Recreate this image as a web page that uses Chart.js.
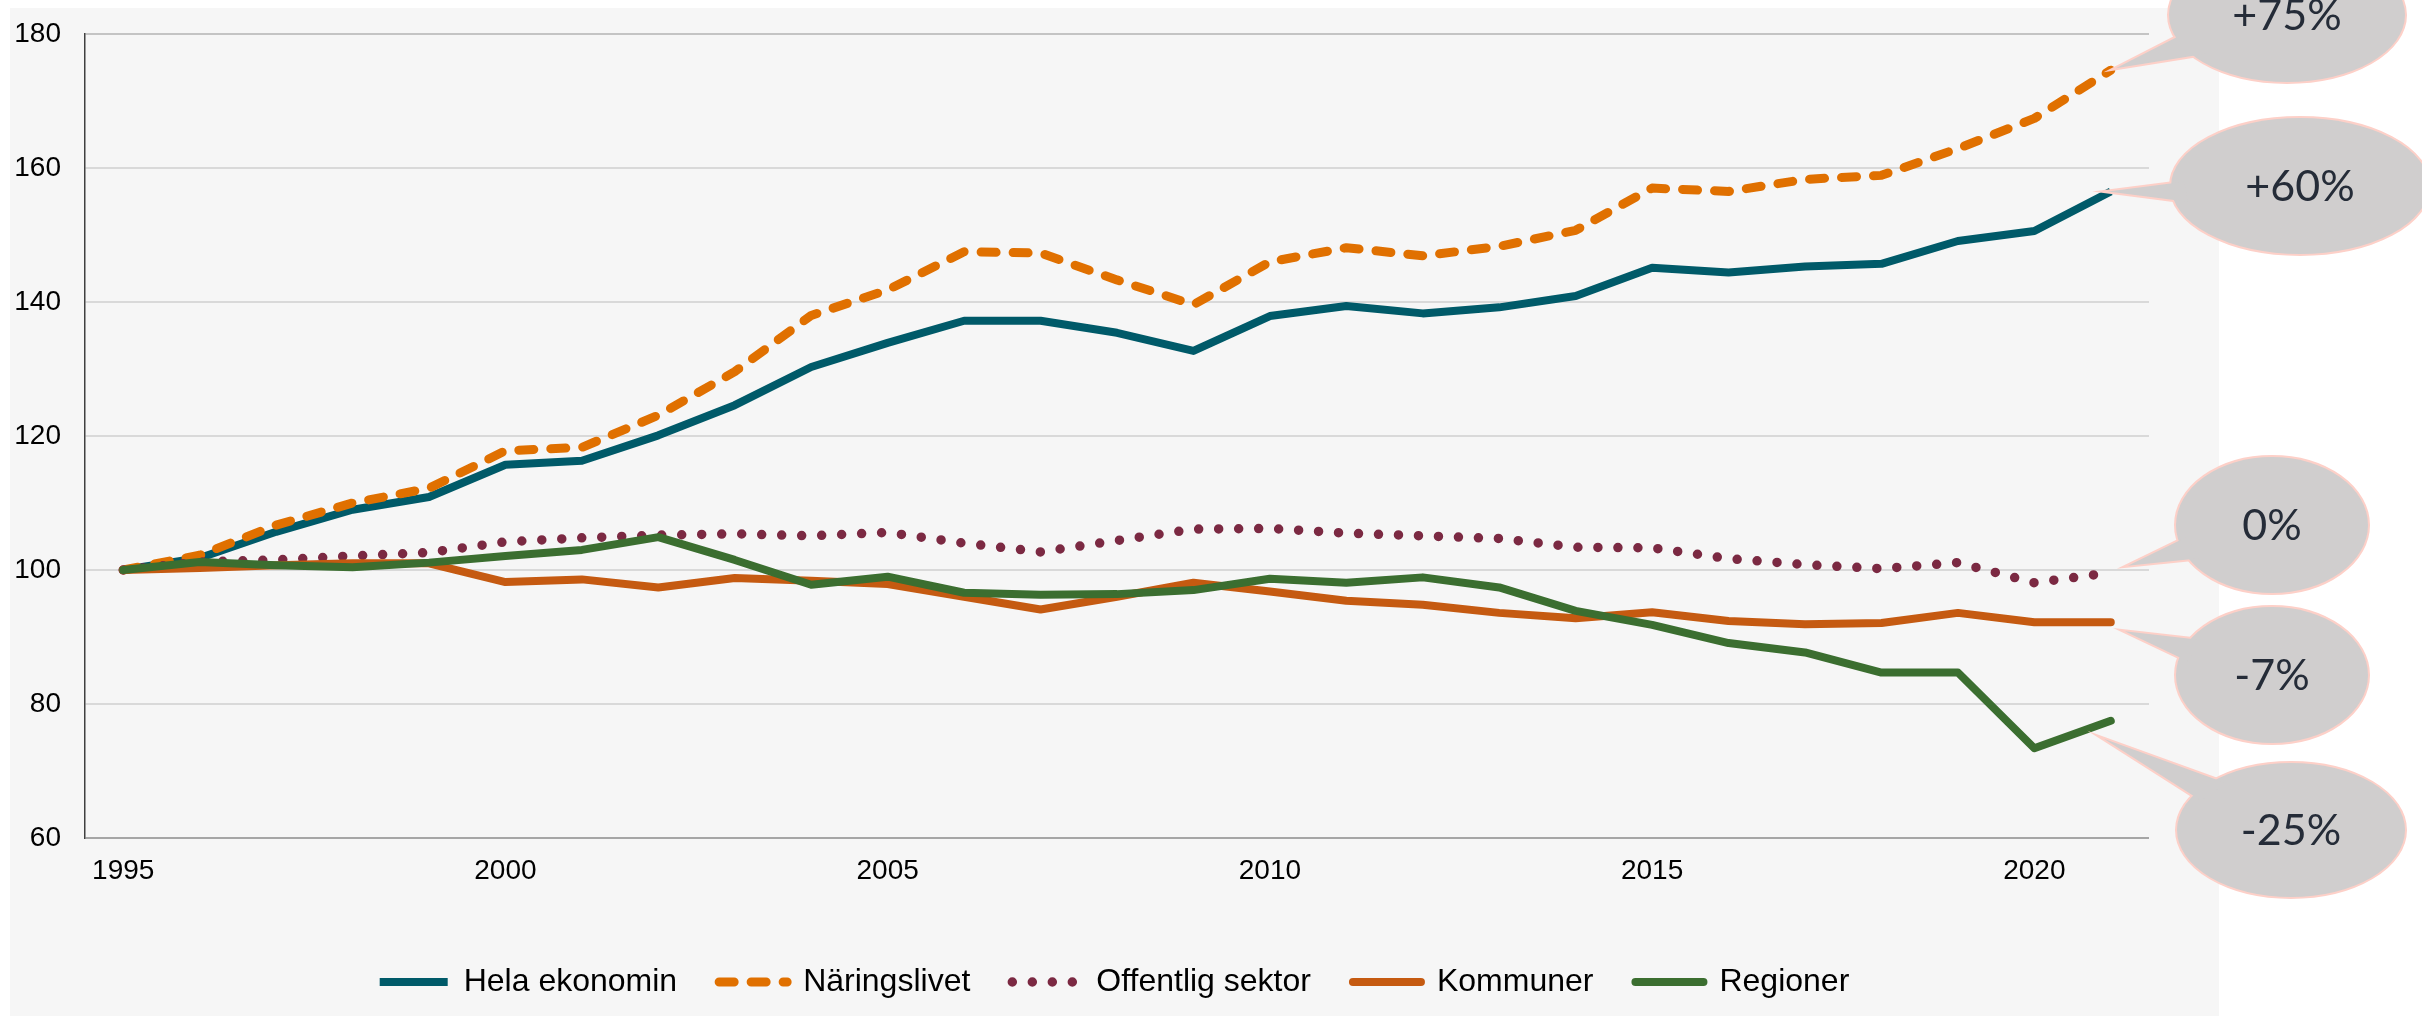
<!DOCTYPE html>
<html>
<head>
<meta charset="utf-8">
<script src="https://cdn.jsdelivr.net/npm/chart.js@4/dist/chart.umd.min.js"></script>
<style>
html,body{margin:0;padding:0;background:#ffffff;}
canvas{display:block;}
</style>
</head>
<body>
<canvas id="c" width="2422" height="1016"></canvas>
<script>
// ---- data ----
const years = ['1995','1996','1997','1998','1999','2000','2001','2002','2003','2004','2005','2006','2007','2008','2009','2010','2011','2012','2013','2014','2015','2016','2017','2018','2019','2020','2021'];
const xTickYears = ['1995','2000','2005','2010','2015','2020'];
const seriesNames = ['Hela ekonomin','Näringslivet','Offentlig sektor','Kommuner','Regioner'];
const helaEkonomin   = [100,101.8,105.7,109,110.9,115.7,116.3,120.1,124.6,130.3,133.9,137.2,137.2,135.4,132.7,137.9,139.4,138.3,139.2,140.9,145.1,144.4,145.3,145.7,149.1,150.6,156.5];
const naringslivet   = [100,102.2,106.7,110,112.2,117.8,118.3,123.1,129.6,138,141.8,147.5,147.3,143.3,139.6,146,148.1,146.9,148.3,150.7,157,156.5,158.3,158.9,162.9,167.4,174.6];
const offentligSektor= [100,101.2,101.5,102.1,102.6,104.2,104.8,105.2,105.4,105.1,105.6,104,102.7,104.4,106.1,106.2,105.5,105.1,104.7,103.4,103.3,101.7,100.8,100.2,101.1,98.1,99.6];
const kommuner       = [100,100.3,100.7,101,101,98.2,98.6,97.4,98.8,98.4,97.9,96,94.1,96,98.1,96.8,95.4,94.8,93.6,92.8,93.7,92.4,91.9,92.1,93.6,92.2,92.2];
const regioner       = [100,101.2,100.7,100.4,101.1,102.1,103,104.9,101.5,97.8,99,96.6,96.3,96.4,97,98.7,98.1,98.9,97.4,93.9,91.8,89.1,87.7,84.7,84.7,73.4,77.5];
const calloutLabels  = ['+60%','+75%','0%','-7%','-25%'];

// ---- styles ----
const seriesColors = ['#005a69','#e07000','#7b2942','#c55a11','#3b6e30'];
const seriesData = [helaEkonomin, naringslivet, offentligSektor, kommuner, regioner];
const seriesDash = [[], [15,17], [0,20], [], []];
const seriesWidth = [8, 9, 9.5, 8, 8];
const calloutGeom = [
  {cx:2300, cy:186, rx:129, ry:68, a1:184, a2:165, dx:-3, dy:0},
  {cx:2287, cy:15,  rx:118, ry:67, a1:163, a2:140, dx:5,  dy:-2},
  {cx:2272, cy:525, rx:96,  ry:68, a1:169, a2:147, dx:17, dy:-7},
  {cx:2272, cy:675, rx:96,  ry:68, a1:215, a2:193, dx:14, dy:9},
  {cx:2291, cy:830, rx:114, ry:67, a1:231, a2:209, dx:-7, dy:18}
];
const tickFont = {family:'"Liberation Sans", Arial, sans-serif', size:28};

const panelPlugin = {
  id:'panel',
  beforeDraw(chart){
    const c = chart.ctx;
    c.save();
    c.fillStyle = '#f6f6f6';
    c.fillRect(10, 8, 2209, 1008);
    c.restore();
  }
};

const calloutPlugin = {
  id:'callouts',
  afterDraw(chart){
    const c = chart.ctx;
    c.save();
    calloutGeom.forEach((g, i) => {
      const meta = chart.getDatasetMeta(i);
      const pt = meta.data[meta.data.length - 1];
      const tx = pt.x + g.dx, ty = pt.y + g.dy;
      const r1 = g.a1 * Math.PI / 180, r2 = g.a2 * Math.PI / 180;
      const b1x = g.cx + 0.9 * g.rx * Math.cos(r1), b1y = g.cy + 0.9 * g.ry * Math.sin(r1);
      const b2x = g.cx + 0.9 * g.rx * Math.cos(r2), b2y = g.cy + 0.9 * g.ry * Math.sin(r2);
      const ell = () => { c.beginPath(); c.ellipse(g.cx, g.cy, g.rx, g.ry, 0, 0, Math.PI * 2); c.closePath(); };
      const tri = () => { c.beginPath(); c.moveTo(b1x, b1y); c.lineTo(tx, ty); c.lineTo(b2x, b2y); c.closePath(); };
      c.lineJoin = 'miter';
      c.setLineDash([]);
      c.strokeStyle = '#fdd0c8';
      c.lineWidth = 4;
      ell(); c.stroke();
      tri(); c.stroke();
      c.fillStyle = '#d0cece';
      ell(); c.fill();
      tri(); c.fill();
      c.fillStyle = '#252c38';
      c.font = '400 43px Lato, "Open Sans", sans-serif';
      c.textAlign = 'center';
      c.textBaseline = 'middle';
      c.fillText(calloutLabels[i], g.cx, g.cy + 1);
    });
    c.restore();
  }
};

const datasets = seriesNames.map((name, i) => ({
  label: name,
  data: seriesData[i],
  borderColor: seriesColors[i],
  backgroundColor: seriesColors[i],
  borderWidth: seriesWidth[i],
  borderDash: seriesDash[i],
  borderCapStyle: i === 0 ? 'butt' : 'round',
  borderJoinStyle: 'round',
  pointRadius: 0,
  tension: 0,
  order: seriesNames.length - 1 - i
}));

new Chart(document.getElementById('c'), {
  type: 'line',
  data: { labels: years, datasets: datasets },
  options: {
    responsive: false,
    devicePixelRatio: 1,
    animation: false,
    layout: { padding: { left: 10, right: 203, top: 34, bottom: 8 } },
    scales: {
      x: {
        type: 'category',
        offset: true,
        grid: { display: false, drawTicks: false },
        border: { display: false },
        ticks: {
          autoSkip: false, maxRotation: 0, padding: 16, color: '#000', font: tickFont,
          callback: function(v) { const l = this.getLabelForValue(v); return xTickYears.includes(l) ? l : ''; }
        },
        afterFit: s => { s.height = 86; }
      },
      y: {
        min: 60, max: 180,
        ticks: { stepSize: 20, padding: 0, color: '#000', font: tickFont },
        grid: {
          drawTicks: true, tickLength: 24, tickColor: 'rgba(0,0,0,0)', lineWidth: 2,
          color: c => c.tick.value === 60 ? '#a6a6a6' : (c.tick.value === 180 ? '#c4c4c4' : '#d9d9d9')
        },
        border: { display: true, color: '#404040', width: 1.5 },
        afterFit: s => { s.width = 75; }
      },
      yRight: {
        type: 'linear', position: 'right', display: true,
        grid: { display: false, drawTicks: false },
        border: { display: false },
        ticks: { display: false },
        afterFit: s => { s.width = 70; }
      }
    },
    plugins: {
      legend: {
        position: 'bottom',
        labels: {
          usePointStyle: true, pointStyle: 'line', pointStyleWidth: 68,
          padding: 42, color: '#000',
          font: { family: '"Liberation Sans", Arial, sans-serif', size: 32 },
          generateLabels: chart => {
            const items = Chart.defaults.plugins.legend.labels.generateLabels(chart);
            items.forEach(it => {
              const ds = chart.data.datasets[it.datasetIndex];
              it.lineDash = ds.borderDash;
              it.lineCap = ds.borderCapStyle;
              it.lineWidth = ds.borderWidth;
              it.strokeStyle = ds.borderColor;
            });
            return items;
          },
          sort: (a, b) => a.datasetIndex - b.datasetIndex
        }
      },
      tooltip: { enabled: false }
    }
  },
  plugins: [panelPlugin, calloutPlugin]
});
</script>
</body>
</html>
